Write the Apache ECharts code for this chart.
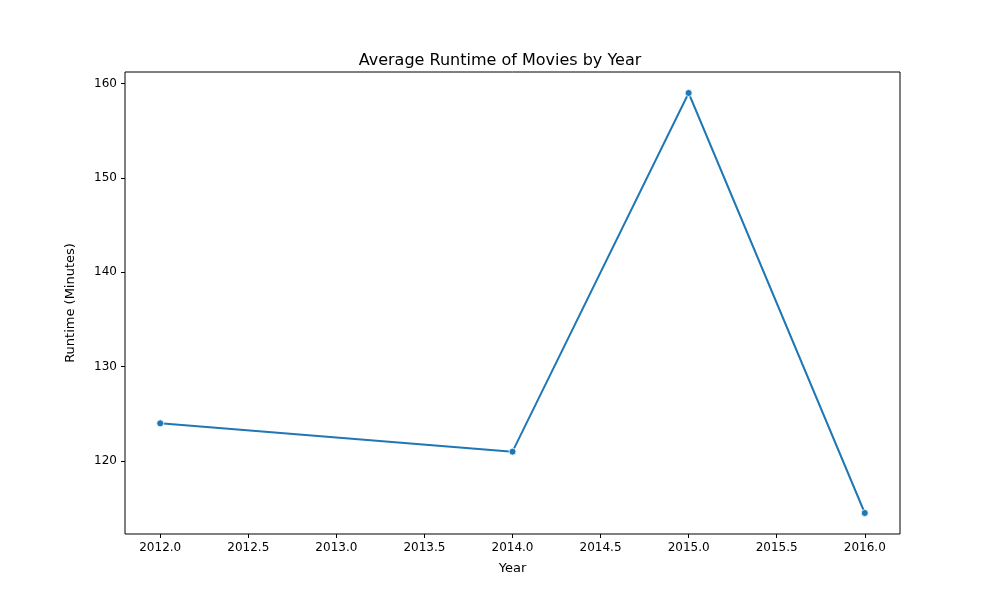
<!DOCTYPE html>
<html><head><meta charset="utf-8">
<script src="https://cdn.jsdelivr.net/npm/echarts@6/dist/echarts.min.js"></script>
<style>html,body{margin:0;padding:0;background:#fff}#c{width:1000px;height:600px}</style>
</head><body><div id="c"></div>
<script>
const years = [2012, 2014, 2015, 2016];
const runtimes = [124, 121, 159, 114.5];
const xTicks = [2012, 2012.5, 2013, 2013.5, 2014, 2014.5, 2015, 2015.5, 2016];
const yTicks = [120, 130, 140, 150, 160];
const font = 'DejaVu Sans';
const chart = echarts.init(document.getElementById('c'));
chart.setOption({
  animation: false,
  textStyle: {fontFamily: font},
  title: {text: 'Average Runtime of Movies by Year', left: 'center', top: 48,
    textStyle: {fontFamily: font, fontSize: 16, fontWeight: 'normal', color: '#000'}},
  grid: {left: 125, right: 100, top: 72, bottom: 66, show: true, borderColor: '#000', borderWidth: 1},
  xAxis: {type: 'value', min: 2011.8, max: 2016.2, name: 'Year', nameLocation: 'middle', nameGap: 28,
    nameTextStyle: {fontFamily: font, fontSize: 13, color: '#000'},
    axisLine: {show: false}, splitLine: {show: false},
    axisTick: {show: true, length: 4, inside: false, lineStyle: {color: '#000'}, customValues: xTicks},
    axisLabel: {color: '#000', fontSize: 12, fontFamily: font, margin: 8, customValues: xTicks,
      formatter: v => v.toFixed(1)}},
  yAxis: {type: 'value', min: 112.275, max: 161.225, name: 'Runtime (Minutes)', nameLocation: 'middle', nameGap: 48,
    nameTextStyle: {fontFamily: font, fontSize: 13, color: '#000'},
    axisLine: {show: false}, splitLine: {show: false},
    axisTick: {show: true, length: 4, lineStyle: {color: '#000'}, customValues: yTicks},
    axisLabel: {color: '#000', fontSize: 12, fontFamily: font, margin: 8, customValues: yTicks}},
  series: [{type: 'line', data: years.map((y, i) => [y, runtimes[i]]),
    symbol: 'circle', symbolSize: 7, showAllSymbol: true,
    lineStyle: {color: '#1f77b4', width: 2}, itemStyle: {color: '#1f77b4', borderColor: '#fff', borderWidth: 0.8}}]
});
</script></body></html>
